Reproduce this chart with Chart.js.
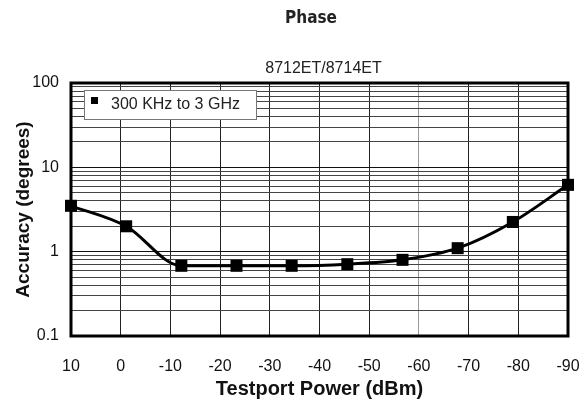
<!DOCTYPE html>
<html lang="en">
<head>
    <meta charset="UTF-8">
    <title>Phase</title>
    <script src="https://cdn.jsdelivr.net/npm/chart.js@4.4.1/dist/chart.umd.min.js"></script>
    <style>
        body { margin: 0; background: #fff; }
        #wrap { width: 588px; height: 405px; position: relative; }
    </style>
</head>
<body>
<div id="wrap">
    <canvas id="chart"></canvas>
</div>
<script>
    // testport power (dBm) for each measured point
    const power = [10, -1.1, -12.2, -23.3, -34.4, -45.6, -56.7, -67.8, -78.9, -90]
    // phase accuracy (degrees)
    const accuracy = [3.5, 2.0, 0.68, 0.68, 0.68, 0.71, 0.8, 1.1, 2.25, 6.2]
    const seriesLabel = '300 KHz to 3 GHz'
    const yMajor = [0.1, 1, 10, 100]
    const xTicks = [10, 0, -10, -20, -30, -40, -50, -60, -70, -80, -90]

    const sans = "'Liberation Sans', Arial, sans-serif"

    // chart title + subtitle, drawn relative to the plot
    const headings = {
        id: 'headings',
        afterDraw(chart) {
            const c = chart.ctx
            const area = chart.chartArea
            c.save()
            c.fillStyle = '#222'
            c.textAlign = 'center'
            c.textBaseline = 'middle'
            c.font = "bold 17px 'Liberation Sans Narrow', 'DejaVu Sans Condensed', sans-serif"
            c.fillText('Phase', 311, 19)
            c.font = '16px ' + sans
            c.fillText('8712ET/8714ET', (area.left + area.right) / 2 + 4, 69)
            c.restore()
        }
    }

    // thick frame round the plot area
    const frame = {
        id: 'frame',
        beforeDatasetsDraw(chart) {
            const c = chart.ctx
            const a = chart.chartArea
            c.save()
            c.strokeStyle = '#000'
            c.lineWidth = 3
            c.strokeRect(a.left, a.top, a.right - a.left, a.bottom - a.top)
            c.restore()
        }
    }

    // legend box sitting inside the plot, top left
    const boxLegend = {
        id: 'boxLegend',
        afterDatasetsDraw(chart) {
            const c = chart.ctx
            const a = chart.chartArea
            const x = a.left + 13
            const y = a.top + 7
            c.save()
            c.fillStyle = '#fff'
            c.fillRect(x, y, 172, 29)
            c.strokeStyle = '#777'
            c.lineWidth = 1
            c.strokeRect(x + 0.5, y + 0.5, 172, 29)
            c.fillStyle = '#000'
            c.fillRect(x + 7, y + 7, 7, 7)
            c.font = '16px ' + sans
            c.fillStyle = '#222'
            c.textBaseline = 'middle'
            c.fillText(chart.data.datasets[0].label, x + 27, y + 15)
            c.restore()
        }
    }

    const ctx = document.getElementById('chart').getContext('2d')
    const chart = new Chart(ctx, {
        type: 'line',
        data: {
            datasets: [{
                label: seriesLabel,
                data: power.map((p, i) => ({x: p, y: accuracy[i]})),
                borderColor: '#000',
                backgroundColor: '#000',
                borderWidth: 3,
                cubicInterpolationMode: 'monotone',
                pointStyle: 'rect',
                pointRadius: 8.5,
                pointBorderWidth: 0,
                pointBackgroundColor: '#000',
                clip: false,
            }],
        },
        options: {
            responsive: true,
            maintainAspectRatio: false,
            animation: false,
            layout: {
                padding: {top: 83, right: 20, left: 0, bottom: 0},
            },
            plugins: {
                legend: {display: false},
                title: {display: false},
                tooltip: {enabled: false},
            },
            scales: {
                x: {
                    type: 'linear',
                    reverse: true,
                    min: -90,
                    max: 10,
                    afterBuildTicks: (scale) => {
                        scale.ticks = xTicks.map(v => ({value: v}))
                    },
                    afterFit: (scale) => {
                        scale.height = 69
                        scale.paddingLeft = 0
                        scale.paddingRight = 0
                    },
                    ticks: {
                        padding: 21,
                        autoSkip: false,
                        maxRotation: 0,
                        color: '#111',
                        font: {family: sans, size: 16},
                    },
                    grid: {
                        drawTicks: false,
                        color: (c) => c.tick && c.tick.value === -60 ? '#999' : '#222',
                        lineWidth: 1,
                    },
                    border: {display: false},
                    title: {
                        display: true,
                        text: 'Testport Power (dBm)',
                        color: '#111',
                        font: {family: sans, size: 20, weight: 'bold'},
                        padding: {top: 0, bottom: 4},
                    },
                },
                y: {
                    type: 'logarithmic',
                    min: 0.1,
                    max: 100,
                    afterBuildTicks: (scale) => {
                        const ticks = []
                        yMajor.forEach((v, i) => {
                            ticks.push({value: v})
                            if (i < yMajor.length - 1) {
                                for (let m = 2; m < 10; m++) {
                                    ticks.push({value: v * m})
                                }
                            }
                        })
                        scale.ticks = ticks
                    },
                    afterFit: (scale) => {
                        scale.width = 71
                        scale.paddingTop = 0
                        scale.paddingBottom = 0
                    },
                    ticks: {
                        padding: 12,
                        autoSkip: false,
                        color: '#111',
                        font: {family: sans, size: 16},
                        callback: (v) => yMajor.includes(v) ? String(v) : '',
                    },
                    grid: {
                        drawTicks: false,
                        color: (c) => c.tick && yMajor.includes(c.tick.value) ? '#111' : '#444',
                        lineWidth: 1,
                    },
                    border: {display: false},
                    title: {
                        display: true,
                        text: 'Accuracy (degrees)',
                        color: '#111',
                        font: {family: sans, size: 19, weight: 'bold'},
                        padding: {top: 12, bottom: 0},
                    },
                },
            },
        },
        plugins: [frame, boxLegend, headings],
    })
</script>
</body>
</html>
